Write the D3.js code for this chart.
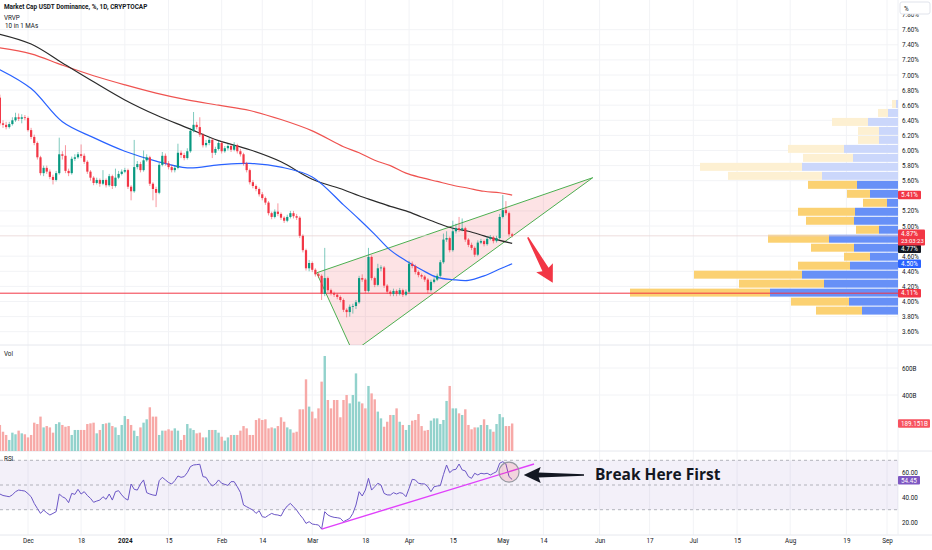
<!DOCTYPE html>
<html>
<head>
<meta charset="utf-8">
<script src="https://cdn.jsdelivr.net/npm/d3@7/dist/d3.min.js"></script>
<style>
  html, body { margin: 0; padding: 0; background: #fff; }
  svg { display: block; font-family: Roboto, "Open Sans", sans-serif; }
</style>
</head>
<body>
<div id="chart"></div>
<script>
var w = 932;
var h = 550;

// first candle date (daily, crypto trades 7 days)
var startDate = Date.UTC(2023, 10, 22);

var opens = [6.70,6.36,6.34,6.31,6.35,6.40,6.44,6.42,6.44,6.43,6.27,6.18,6.10,5.91,5.70,5.77,5.72,5.65,5.61,5.70,
  5.95,5.93,5.73,5.70,5.89,5.91,5.95,5.93,5.85,5.72,5.64,5.57,5.61,5.56,5.61,5.54,5.66,5.53,5.64,5.69,
  5.72,5.74,5.52,5.46,5.78,5.82,5.74,5.87,5.91,5.56,5.49,5.44,5.81,5.93,5.83,5.78,5.74,5.77,5.97,5.94,
  5.90,5.99,6.26,6.34,6.31,6.21,6.07,6.10,6.14,5.97,6.02,6.10,5.99,6.03,6.06,6.01,6.07,5.99,5.95,5.83,
  5.74,5.58,5.53,5.49,5.42,5.37,5.31,5.17,5.12,5.19,5.16,5.11,5.07,5.12,5.17,5.13,5.11,4.87,4.68,4.44,
  4.51,4.42,4.36,4.34,4.10,4.31,4.15,4.11,4.09,4.06,4.02,3.89,3.86,3.93,3.94,3.99,4.31,4.29,4.14,4.59,
  4.31,4.22,4.44,4.45,4.21,4.13,4.10,4.14,4.10,4.15,4.09,4.13,4.50,4.47,4.39,4.35,4.33,4.29,4.15,4.26,
  4.29,4.34,4.52,4.82,4.84,4.68,4.93,4.97,4.95,4.97,4.82,4.75,4.71,4.62,4.78,4.80,4.76,4.83,4.85,4.80,
  4.84,5.12,5.21,5.17,4.89];
var closes = [6.36,6.34,6.31,6.35,6.40,6.44,6.42,6.44,6.43,6.27,6.18,6.10,5.91,5.70,5.77,5.72,5.65,5.61,5.70,5.95,
  5.93,5.73,5.70,5.89,5.91,5.95,5.93,5.85,5.72,5.64,5.57,5.61,5.56,5.61,5.54,5.66,5.53,5.64,5.69,5.72,
  5.74,5.52,5.46,5.78,5.82,5.74,5.87,5.91,5.56,5.49,5.44,5.81,5.93,5.83,5.78,5.74,5.77,5.97,5.94,5.90,
  5.99,6.26,6.34,6.31,6.21,6.07,6.10,6.14,5.97,6.02,6.10,5.99,6.03,6.06,6.01,6.07,5.99,5.95,5.83,5.74,
  5.58,5.53,5.49,5.42,5.37,5.31,5.17,5.12,5.19,5.16,5.11,5.07,5.12,5.17,5.13,5.11,4.87,4.68,4.44,4.51,
  4.42,4.36,4.34,4.10,4.31,4.15,4.11,4.09,4.06,4.02,3.89,3.86,3.93,3.94,3.99,4.31,4.29,4.14,4.59,4.31,
  4.22,4.44,4.45,4.21,4.13,4.10,4.14,4.10,4.15,4.09,4.13,4.50,4.47,4.39,4.35,4.33,4.29,4.15,4.26,4.29,
  4.34,4.52,4.82,4.84,4.68,4.93,4.97,4.95,4.97,4.82,4.75,4.71,4.62,4.78,4.80,4.76,4.83,4.85,4.80,4.84,
  5.12,5.21,5.17,4.89,4.87];
var highs = [6.74,6.40,6.38,6.38,6.44,6.50,6.49,6.48,6.47,6.45,6.30,6.21,6.12,5.93,5.80,5.80,5.75,5.68,5.73,6.17,
  5.99,6.07,5.76,5.92,5.95,5.98,6.08,5.96,5.87,5.74,5.66,5.64,5.63,5.74,5.63,5.69,5.68,5.76,5.73,5.75,
  5.77,5.76,5.54,6.14,5.86,5.85,6.00,5.95,5.93,5.58,5.52,5.84,5.98,5.96,5.86,5.81,5.80,6.09,6.00,5.97,
  6.03,6.30,6.51,6.38,6.44,6.23,6.14,6.17,6.16,6.05,6.13,6.12,6.06,6.09,6.08,6.11,6.09,6.02,5.97,5.85,
  5.76,5.61,5.55,5.51,5.45,5.39,5.33,5.19,5.22,5.30,5.18,5.13,5.15,5.20,5.20,5.16,5.13,4.89,4.70,4.55,
  4.53,4.44,4.38,4.36,4.71,4.33,4.17,4.13,4.11,4.08,4.04,3.91,3.96,3.97,4.02,4.34,4.36,4.31,4.71,4.61,
  4.33,4.50,4.48,4.47,4.23,4.15,4.17,4.16,4.18,4.17,4.16,4.54,4.53,4.49,4.41,4.37,4.35,4.31,4.29,4.32,
  4.37,4.55,4.90,4.93,4.86,5.07,5.03,5.12,5.10,4.99,4.84,4.78,4.73,4.81,4.83,4.82,4.86,4.88,4.87,4.87,
  5.16,5.41,5.33,5.19,4.91];
var lows = [6.33,6.30,6.28,6.29,6.33,6.38,6.39,6.36,6.40,6.25,6.15,6.07,5.88,5.67,5.66,5.69,5.62,5.55,5.59,5.68,
  5.88,5.70,5.66,5.68,5.86,5.89,5.90,5.82,5.69,5.60,5.54,5.55,5.52,5.54,5.51,5.52,5.49,5.51,5.62,5.67,
  5.70,5.49,5.34,5.44,5.75,5.71,5.72,5.85,5.53,5.34,5.25,5.42,5.79,5.80,5.75,5.71,5.71,5.75,5.90,5.87,
  5.88,5.97,6.24,6.28,6.18,6.04,6.04,6.07,5.90,5.94,6.00,5.96,5.97,6.00,5.98,5.99,5.96,5.92,5.80,5.71,
  5.55,5.50,5.46,5.39,5.34,5.28,5.14,5.09,5.10,5.13,5.08,5.04,5.05,5.10,5.10,5.08,4.84,4.65,4.41,4.40,
  4.39,4.33,4.31,4.02,4.07,4.12,4.08,4.06,4.03,3.99,3.86,3.79,3.80,3.84,3.90,3.97,4.26,4.11,4.12,4.28,
  4.19,4.20,4.40,4.18,4.10,4.07,4.07,4.07,4.08,4.06,4.07,4.11,4.44,4.36,4.32,4.30,4.26,4.11,4.13,4.24,
  4.27,4.32,4.50,4.79,4.65,4.66,4.90,4.92,4.93,4.79,4.72,4.68,4.59,4.60,4.76,4.73,4.74,4.81,4.77,4.78,
  4.82,5.10,5.14,4.86,4.85];

// daily volume, billions
var volumes = [178,128,104,67,121,109,136,116,109,86,104,195,185,240,160,170,160,121,185,198,
  178,165,170,104,141,141,141,141,185,190,195,116,141,185,190,195,170,160,104,178,
  244,222,178,136,96,160,195,220,309,240,240,104,136,136,146,136,153,136,67,104,
  185,153,141,116,121,86,86,141,141,141,121,91,62,86,104,104,104,136,170,153,
  104,104,215,227,215,220,153,160,153,170,235,202,160,146,121,128,294,294,516,314,
  277,227,301,499,689,363,301,363,363,235,363,400,338,400,560,351,338,301,467,412,
  368,277,227,165,202,252,252,301,202,178,141,178,210,215,259,170,136,141,210,227,
  227,185,215,356,467,301,301,264,252,294,178,146,160,160,178,220,178,146,128,185,
  259,235,170,170,189];

// RSI(14), one value per candle
var rsiValues = [42.7,41.5,41.0,40.5,42.0,44.6,45.9,45.5,45.1,43.0,40.5,35.1,31.0,27.0,29.7,27.5,25.7,27.0,28.4,42.7,
  40.5,39.2,35.7,43.2,42.4,46.5,42.7,44.6,41.5,39.2,36.0,37.0,37.8,40.5,38.4,42.7,37.8,44.6,45.4,42.0,
  39.2,37.8,50.8,46.5,45.9,50.8,54.1,43.8,42.7,41.9,41.5,53.5,56.2,54.1,52.0,50.8,53.5,57.3,56.2,56.8,
  60.0,64.9,66.2,66.5,66.8,56.8,56.2,52.0,49.2,50.8,54.1,51.4,50.5,49.7,52.7,52.7,48.6,44.0,33.8,32.4,
  31.0,29.7,27.0,29.2,24.3,23.8,25.5,27.0,26.0,25.7,24.9,29.7,33.0,35.1,32.4,29.7,26.0,23.0,18.9,20.3,
  18.4,18.0,17.6,14.3,28.4,25.7,24.5,23.8,23.5,23.0,20.3,21.6,23.0,27.0,33.8,44.6,41.1,45.9,55.4,45.9,
  48.6,51.4,50.0,43.2,42.0,41.9,43.8,42.7,43.8,43.2,40.5,47.3,54.6,54.1,51.4,51.0,50.8,48.6,44.6,48.6,
  49.2,49.5,58.4,66.2,60.0,62.2,62.7,67.0,62.2,61.4,56.8,55.4,59.5,58.1,59.5,59.0,59.5,58.1,59.5,60.8,
  67.6,68.9,67.0,56.8,54.45];

// moving averages read at these candle indices
var maIndex = [0,10,20,30,40,50,60,70,80,90,100,110,115,120,125,130,135,140,145,150,155,160,164];
var maBlack = [7.54,7.41,7.16,6.91,6.67,6.47,6.30,6.13,6.01,5.85,5.62,5.48,5.40,5.33,5.26,5.20,5.12,5.04,4.97,4.93,4.87,4.81,4.77];
var maRed = [7.36,7.28,7.13,6.99,6.87,6.76,6.67,6.60,6.53,6.41,6.26,6.05,5.97,5.87,5.80,5.70,5.64,5.59,5.54,5.50,5.46,5.44,5.41];
var maBlue = [7.07,6.82,6.38,6.17,5.99,5.86,5.77,5.81,5.83,5.78,5.65,5.28,5.09,4.89,4.68,4.54,4.42,4.32,4.29,4.28,4.34,4.43,4.50];

// visible range volume profile (24 rows from 3.82%)
var vpLow = 3.82;
var vpStep = 0.119;
var vpUp = [36,49,128,74,96,48,28,44,69,19,44,43,11,28,41,76,96,45,54,19,19,30,10,2];
var vpDown = [46,58,140,85,108,52,26,43,61,23,48,57,24,23,49,94,102,50,56,21,21,36,10,4];
var vpValueTop = 5.6;

// 5.40 and 4.80 sit under the value badges, as on the original
var priceTicks = [3.6,3.8,4.0,4.2,4.4,4.6,5.0,5.2,5.6,5.8,6.0,6.2,6.4,6.6,6.8,7.0,7.2,7.4,7.6,7.8];
var volTicks = [400,600];
var rsiTicks = [20,40,60];
var rsiBands = [70,50,30];

var timeTicks = [Date.UTC(2023,11,1),Date.UTC(2023,11,18),Date.UTC(2024,0,1),Date.UTC(2024,0,15),Date.UTC(2024,1,1),
  Date.UTC(2024,1,14),Date.UTC(2024,2,1),Date.UTC(2024,2,18),Date.UTC(2024,3,1),Date.UTC(2024,3,15),Date.UTC(2024,4,1),
  Date.UTC(2024,4,14),Date.UTC(2024,5,1),Date.UTC(2024,5,17),Date.UTC(2024,6,1),Date.UTC(2024,6,15),Date.UTC(2024,7,1),
  Date.UTC(2024,7,19),Date.UTC(2024,8,1)];
var timeLabels = ["Dec","18","2024","15","Feb","14","Mar","18","Apr","15","May","14","Jun","17","Jul","15","Aug","19","Sep"];

var GREEN = "#089981", RED = "#f23645";
var FS = 6.3;
var paneRight = 898;
var mainBottom = 345, volBottom = 451, rsiBottom = 535;

var svg = d3.select("#chart").append("svg").attr("width", w).attr("height", h);

// Define scales
var xScale = d3.scaleUtc()
  .domain([new Date(Date.UTC(2023,11,1)), new Date(Date.UTC(2024,8,1))])
  .range([28, 887]);
function xi(i) { return xScale(new Date(startDate + i * 864e5)); }

var yP = d3.scaleLinear().domain([5.0, 7.6]).range([226, 29.7]);
var yV = d3.scaleLinear().domain([0, 600]).range([449, 368]);
var yR = d3.scaleLinear().domain([30, 70]).range([509.7, 460.3]);
var vpX = d3.scaleLinear().domain([0, 268]).range([0, 268]);

var defs = svg.append("defs");
defs.append("clipPath").attr("id", "mainClip").append("rect")
  .attr("x", 0).attr("y", 0).attr("width", paneRight).attr("height", mainBottom);
defs.append("clipPath").attr("id", "rsiClip").append("rect")
  .attr("x", 0).attr("y", volBottom + 1).attr("width", paneRight).attr("height", rsiBottom - volBottom - 1);

// grid
var grid = svg.append("g");
grid.selectAll(".vg").data(timeTicks).enter().append("line")
  .attr("x1", function (d) { return xScale(new Date(d)); })
  .attr("x2", function (d) { return xScale(new Date(d)); })
  .attr("y1", 0).attr("y2", rsiBottom)
  .attr("stroke", "#f2f3f6").attr("stroke-width", 1);
grid.selectAll(".hg").data(priceTicks.filter(function (d) { return d < 7.7; })).enter().append("line")
  .attr("x1", 0).attr("x2", paneRight)
  .attr("y1", function (d) { return yP(d); }).attr("y2", function (d) { return yP(d); })
  .attr("stroke", "#f2f3f6");
grid.selectAll(".vhg").data(volTicks).enter().append("line")
  .attr("x1", 0).attr("x2", paneRight)
  .attr("y1", function (d) { return yV(d); }).attr("y2", function (d) { return yV(d); })
  .attr("stroke", "#f2f3f6");

// pane separators
[mainBottom, volBottom, rsiBottom].forEach(function (y) {
  svg.append("line").attr("x1", 0).attr("x2", w).attr("y1", y).attr("y2", y)
    .attr("stroke", "#e6e8ee").attr("stroke-width", 1);
});
svg.append("line").attr("x1", paneRight).attr("x2", paneRight).attr("y1", 0).attr("y2", rsiBottom)
  .attr("stroke", "#eef0f4");

var main = svg.append("g").attr("clip-path", "url(#mainClip)");

// volume profile
var rows = d3.range(vpUp.length);
function rowY(k) { return yP(vpLow + (k + 1) * vpStep) + 0.5; }
function rowH(k) { return yP(vpLow + k * vpStep) - yP(vpLow + (k + 1) * vpStep) - 1; }
main.selectAll(".vpDown").data(rows).enter().append("rect")
  .attr("x", function (k) { return paneRight - vpX(vpUp[k] + vpDown[k]); })
  .attr("width", function (k) { return vpX(vpDown[k]); })
  .attr("y", rowY).attr("height", rowH)
  .attr("fill", function (k) { return vpLow + k * vpStep >= vpValueTop ? "#fdf0d2" : "#fbd172"; });
main.selectAll(".vpUp").data(rows).enter().append("rect")
  .attr("x", function (k) { return paneRight - vpX(vpUp[k]); })
  .attr("width", function (k) { return vpX(vpUp[k]); })
  .attr("y", rowY).attr("height", rowH)
  .attr("fill", function (k) { return vpLow + k * vpStep >= vpValueTop ? "#cbd7fb" : "#6790f7"; });

// rising wedge (annotation)
var wedge = [[101.4, 4.38], [189.8, 5.64], [113, 3.33]];
main.append("path")
  .attr("d", "M" + wedge.map(function (p) { return xi(p[0]) + "," + yP(p[1]); }).join("L") + "Z")
  .attr("fill", "rgba(242,54,69,0.14)")
  .attr("stroke", "#4caf50").attr("stroke-width", 1);

// last price line and support
var lastClose = closes[closes.length - 1];
main.append("line").attr("x1", 0).attr("x2", paneRight)
  .attr("y1", yP(lastClose)).attr("y2", yP(lastClose))
  .attr("stroke", "#e8d4d6").attr("stroke-width", 0.8);
main.append("line").attr("x1", 0).attr("x2", paneRight)
  .attr("y1", yP(4.11)).attr("y2", yP(4.11))
  .attr("stroke", RED).attr("stroke-width", 1);

// moving averages
function maLine(vals) {
  return d3.line()
    .x(function (d, i) { return xi(maIndex[i]); })
    .y(function (d) { return yP(d); })
    .curve(d3.curveCatmullRom)(vals);
}
main.append("path").attr("d", maLine(maRed)).attr("fill", "none").attr("stroke", "#ef5350").attr("stroke-width", 1.2);
main.append("path").attr("d", maLine(maBlack)).attr("fill", "none").attr("stroke", "#2a2a2a").attr("stroke-width", 1.2);
main.append("path").attr("d", maLine(maBlue)).attr("fill", "none").attr("stroke", "#2962ff").attr("stroke-width", 1.2);

// candles
var idx = d3.range(closes.length);
function col(i) { return closes[i] >= opens[i] ? GREEN : RED; }
main.selectAll(".wick").data(idx).enter().append("line")
  .attr("x1", function (i) { return xi(i); })
  .attr("x2", function (i) { return xi(i); })
  .attr("y1", function (i) { return yP(highs[i]); })
  .attr("y2", function (i) { return yP(lows[i]); })
  .attr("stroke", col).attr("stroke-opacity", 0.65).attr("stroke-width", 0.8);
main.selectAll(".body").data(idx).enter().append("rect")
  .attr("x", function (i) { return xi(i) - 1.1; })
  .attr("width", 2.2)
  .attr("y", function (i) { return yP(Math.max(opens[i], closes[i])); })
  .attr("height", function (i) { return Math.max(0.8, Math.abs(yP(opens[i]) - yP(closes[i]))); })
  .attr("fill", col);

// red down arrow
(function () {
  var x0 = xi(169), y0 = yP(4.85), x1 = xi(177), y1 = yP(4.25);
  var a = Math.atan2(y1 - y0, x1 - x0), len = Math.hypot(x1 - x0, y1 - y0);
  var pts = [[0, -0.8], [len - 15, -3.5], [len - 17, -9.5], [len, 0], [len - 17, 9.5], [len - 15, 3.5], [0, 0.8]];
  main.append("path")
    .attr("d", "M" + pts.map(function (p) {
      return (x0 + p[0] * Math.cos(a) - p[1] * Math.sin(a)) + "," + (y0 + p[0] * Math.sin(a) + p[1] * Math.cos(a));
    }).join("L") + "Z")
    .attr("fill", RED);
})();

// volume
svg.selectAll(".vol").data(idx).enter().append("rect")
  .attr("x", function (i) { return xi(i) - 1.2; })
  .attr("width", 2.4)
  .attr("y", function (i) { return yV(volumes[i]); })
  .attr("height", function (i) { return yV(0) + 2 - yV(volumes[i]); })
  .attr("fill", function (i) { return closes[i] >= opens[i] ? "#92d2cc" : "#f7a9a7"; });

// RSI pane
var rsiG = svg.append("g").attr("clip-path", "url(#rsiClip)");
rsiG.append("rect").attr("x", 0).attr("width", paneRight)
  .attr("y", yR(70)).attr("height", yR(30) - yR(70))
  .attr("fill", "rgba(126,87,194,0.09)");
rsiG.selectAll(".band").data(rsiBands).enter().append("line")
  .attr("x1", 0).attr("x2", paneRight)
  .attr("y1", function (d) { return yR(d); }).attr("y2", function (d) { return yR(d); })
  .attr("stroke", "#9598a1").attr("stroke-width", 0.7).attr("stroke-dasharray", "3,3");
rsiG.append("path")
  .attr("d", d3.line().x(function (d, i) { return xi(i); }).y(function (d) { return yR(d); })(rsiValues))
  .attr("fill", "none").attr("stroke", "#6b56c6").attr("stroke-width", 1);
rsiG.append("line")
  .attr("x1", xi(103)).attr("y1", yR(14.3)).attr("x2", xi(171)).attr("y2", yR(67))
  .attr("stroke", "#e040fb").attr("stroke-width", 1.4);
rsiG.append("circle").attr("cx", xi(163)).attr("cy", yR(60.5)).attr("r", 10)
  .attr("fill", "rgba(242,54,69,0.15)").attr("stroke", "#9598a1").attr("stroke-width", 1.2);

// black arrow and note
(function () {
  var tx = xi(167.7), ty = yR(58.1), ex = xi(187);
  var pts = [[tx, ty], [tx + 17, ty - 8], [tx + 15, ty - 2.5], [ex, ty - 0.7], [ex, ty + 0.7], [tx + 15, ty + 2.5], [tx + 17, ty + 8]];
  svg.append("path").attr("d", "M" + pts.join("L") + "Z").attr("fill", "#131722");
  svg.append("text").attr("x", xi(190.5)).attr("y", ty + 5.5)
    .attr("font-family", "Open Sans, sans-serif")
    .attr("font-size", 15.5).attr("font-weight", 700).attr("fill", "#131722")
    .text("Break Here First");
})();

// axes
function styleAxis(g) {
  g.select(".domain").remove();
  g.selectAll("text").attr("font-size", FS).attr("fill", "#131722").attr("font-family", "Roboto, sans-serif");
}
svg.append("g").attr("transform", "translate(" + (paneRight + 4) + ",0)")
  .call(d3.axisRight(yP).tickValues(priceTicks).tickSize(0).tickPadding(0)
    .tickFormat(function (d) { return d3.format(".2f")(d) + "%"; }))
  .call(styleAxis);
svg.append("g").attr("transform", "translate(" + (paneRight + 4) + ",0)")
  .call(d3.axisRight(yV).tickValues(volTicks).tickSize(0).tickPadding(0)
    .tickFormat(function (d) { return d + "B"; }))
  .call(styleAxis);
svg.append("g").attr("transform", "translate(" + (paneRight + 4) + ",0)")
  .call(d3.axisRight(yR).tickValues(rsiTicks).tickSize(0).tickPadding(0)
    .tickFormat(d3.format(".2f")))
  .call(styleAxis);

var xAxis = svg.append("g").attr("transform", "translate(0," + (rsiBottom + 4) + ")")
  .call(d3.axisBottom(xScale).tickValues(timeTicks.map(function (d) { return new Date(d); }))
    .tickSize(0).tickPadding(0)
    .tickFormat(function (d, i) { return timeLabels[i]; }))
  .call(styleAxis);
xAxis.selectAll("text").attr("font-weight", function (d, i) { return timeLabels[i] === "2024" ? 700 : 400; });

// axis value badges
function badge(y, txt, fill, wd, txt2) {
  var hh = txt2 ? 16 : 8.5;
  var g = svg.append("g");
  g.append("rect").attr("x", paneRight).attr("y", y - 4.25).attr("width", wd).attr("height", hh)
    .attr("rx", 1).attr("fill", fill);
  g.append("text").attr("x", paneRight + 3).attr("y", y + 2.2).attr("font-size", FS).attr("fill", "#fff").text(txt);
  if (txt2) g.append("text").attr("x", paneRight + 3).attr("y", y + 9.6).attr("font-size", 5.9).attr("fill", "#fff").text(txt2);
}
badge(yP(5.41), "5.41%", RED, 23);
badge(yP(4.50), "4.50%", "#2962ff", 23);
badge(yP(4.77) + 5.5, "4.77%", "#131722", 23);
badge(yP(lastClose) - 2, "4.87%", RED, 27, "23:03:23");
badge(yP(4.11), "4.11%", RED, 23);
badge(yV(volumes[volumes.length - 1]), "189.151B", "#f7525f", 32);
badge(yR(rsiValues[rsiValues.length - 1]) + 0.8, "54.45", "#7e57c2", 22);

// scale mode box
svg.append("rect").attr("x", 900).attr("y", 2).attr("width", 30).attr("height", 12)
  .attr("fill", "#fff").attr("stroke", "#e0e3eb").attr("rx", 2);
svg.append("text").attr("x", 904).attr("y", 10.5).attr("font-size", FS).attr("fill", "#131722").text("%");

// legends
svg.append("text").attr("x", 4).attr("y", 9).attr("font-size", 6.4).attr("font-weight", 700)
  .attr("fill", "#131722").text("Market Cap USDT Dominance, %, 1D, CRYPTOCAP");
svg.append("text").attr("x", 4).attr("y", 19.5).attr("font-size", FS).attr("fill", "#131722").text("VRVP");
svg.append("text").attr("x", 5).attr("y", 27.5).attr("font-size", FS).attr("fill", "#131722").text("10 in 1 MAs");
svg.append("text").attr("x", 4).attr("y", 356).attr("font-size", FS).attr("fill", "#131722").text("Vol");
svg.append("text").attr("x", 4).attr("y", 461).attr("font-size", FS).attr("fill", "#131722").text("RSI");
</script>
</body>
</html>
